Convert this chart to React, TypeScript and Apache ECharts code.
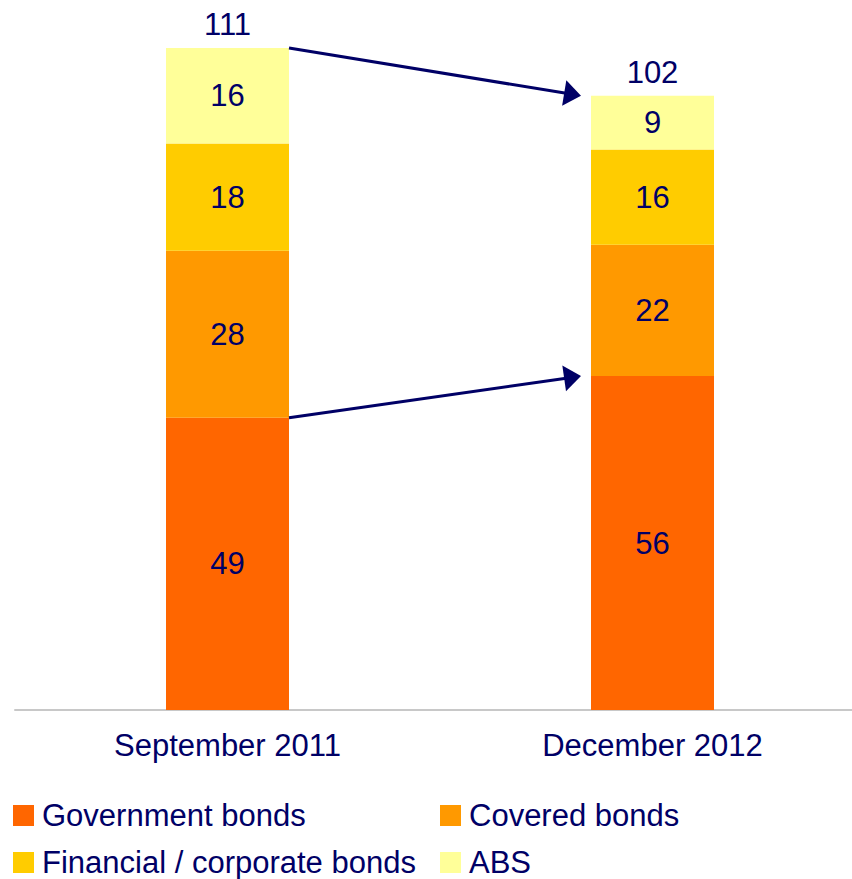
import React, { useEffect, useRef } from "react";
import * as echarts from "echarts";

const categories = ["September 2011", "December 2012"];
const government = [49, 56];
const covered = [28, 22];
const financial = [18, 16];
const abs = [16, 9];
const totals = [111, 102];
const seriesNames = ["Government bonds", "Covered bonds", "Financial / corporate bonds", "ABS"];
const seriesColors = ["#FF6600", "#FF9900", "#FFCC00", "#FFFF99"];
// arrows: number of stacked layers (from bottom) whose top is linked between the two bars
const arrowLayers = [4, 1];

const NAVY = "#000066";
const FONT = "'Liberation Sans', Arial, sans-serif";
const BAR_W = 123;

export default function App() {
  const ref = useRef<HTMLDivElement>(null);
  useEffect(() => {
    if (!ref.current) return;
    const chart = echarts.init(ref.current, null, { renderer: "svg" });
    const layers = [government, covered, financial, abs];
    const labelStyle = {
      show: true,
      position: "inside",
      color: NAVY,
      fontSize: 31,
      fontFamily: FONT,
    };
    const legendBase = {
      orient: "vertical",
      top: 800,
      padding: 0,
      itemWidth: 21,
      itemHeight: 21,
      itemGap: 16,
      icon: "rect",
      selectedMode: false,
      textStyle: { color: NAVY, fontSize: 31, fontFamily: FONT, padding: [0, 0, 0, 3] },
    };
    const option: any = {
      animation: false,
      textStyle: { fontFamily: FONT },
      grid: { left: 15, width: 850, top: 48, bottom: 169, outerBoundsMode: "none", containLabel: false },
      legend: [
        { ...legendBase, data: [seriesNames[0], seriesNames[2]], left: 13 },
        { ...legendBase, data: [seriesNames[1], seriesNames[3]], left: 440 },
      ],
      xAxis: {
        type: "category",
        data: categories,
        axisLine: { lineStyle: { color: "#C8C8C8", width: 2 } },
        axisTick: { show: false },
        axisLabel: { color: NAVY, fontSize: 31, fontFamily: FONT, margin: 20 },
      },
      yAxis: {
        type: "value",
        min: 0,
        max: 111,
        show: false,
        splitLine: { show: false },
      },
      series: [
        ...layers.map((d, i) => ({
          name: seriesNames[i],
          type: "bar",
          stack: "total",
          barWidth: BAR_W,
          data: d,
          itemStyle: { color: seriesColors[i] },
          label: labelStyle,
        })),
        {
          name: "Total",
          type: "bar",
          stack: "total",
          barWidth: BAR_W,
          data: categories.map(() => 0),
          itemStyle: { color: "transparent" },
          label: {
            show: true,
            position: "top",
            distance: 8,
            color: NAVY,
            fontSize: 31,
            fontFamily: FONT,
            formatter: (p: any) => String(totals[p.dataIndex]),
          },
        },
      ],
    };
    chart.setOption(option);

    const stackTop = (ci: number, n: number) => {
      let s = 0;
      for (let k = 0; k < n; k++) s += layers[k][ci];
      return s;
    };
    const elements: any[] = [];
    arrowLayers.forEach((n) => {
      const a = chart.convertToPixel({ gridIndex: 0 }, [0, stackTop(0, n)]) as number[];
      const b = chart.convertToPixel({ gridIndex: 0 }, [1, stackTop(1, n)]) as number[];
      const sx = a[0] + BAR_W / 2;
      const sy = a[1];
      const tx = b[0] - BAR_W / 2 - 10;
      const ty = b[1];
      const len = Math.hypot(tx - sx, ty - sy);
      const dx = (tx - sx) / len;
      const dy = (ty - sy) / len;
      const headL = 17;
      const headW = 13;
      const bx = tx - dx * headL;
      const by = ty - dy * headL;
      elements.push({
        type: "line",
        shape: { x1: sx, y1: sy, x2: bx + dx * 2, y2: by + dy * 2 },
        style: { stroke: NAVY, lineWidth: 3 },
        z: 100,
      });
      elements.push({
        type: "polygon",
        shape: {
          points: [
            [tx, ty],
            [bx - dy * headW, by + dx * headW],
            [bx + dy * headW, by - dx * headW],
          ],
        },
        style: { fill: NAVY },
        z: 100,
      });
    });
    chart.setOption({ graphic: elements });
    return () => chart.dispose();
  }, []);
  return (
    <div
      ref={ref}
      style={{ position: "fixed", left: 0, top: 0, width: 852, height: 879, background: "#fff" }}
    />
  );
}
